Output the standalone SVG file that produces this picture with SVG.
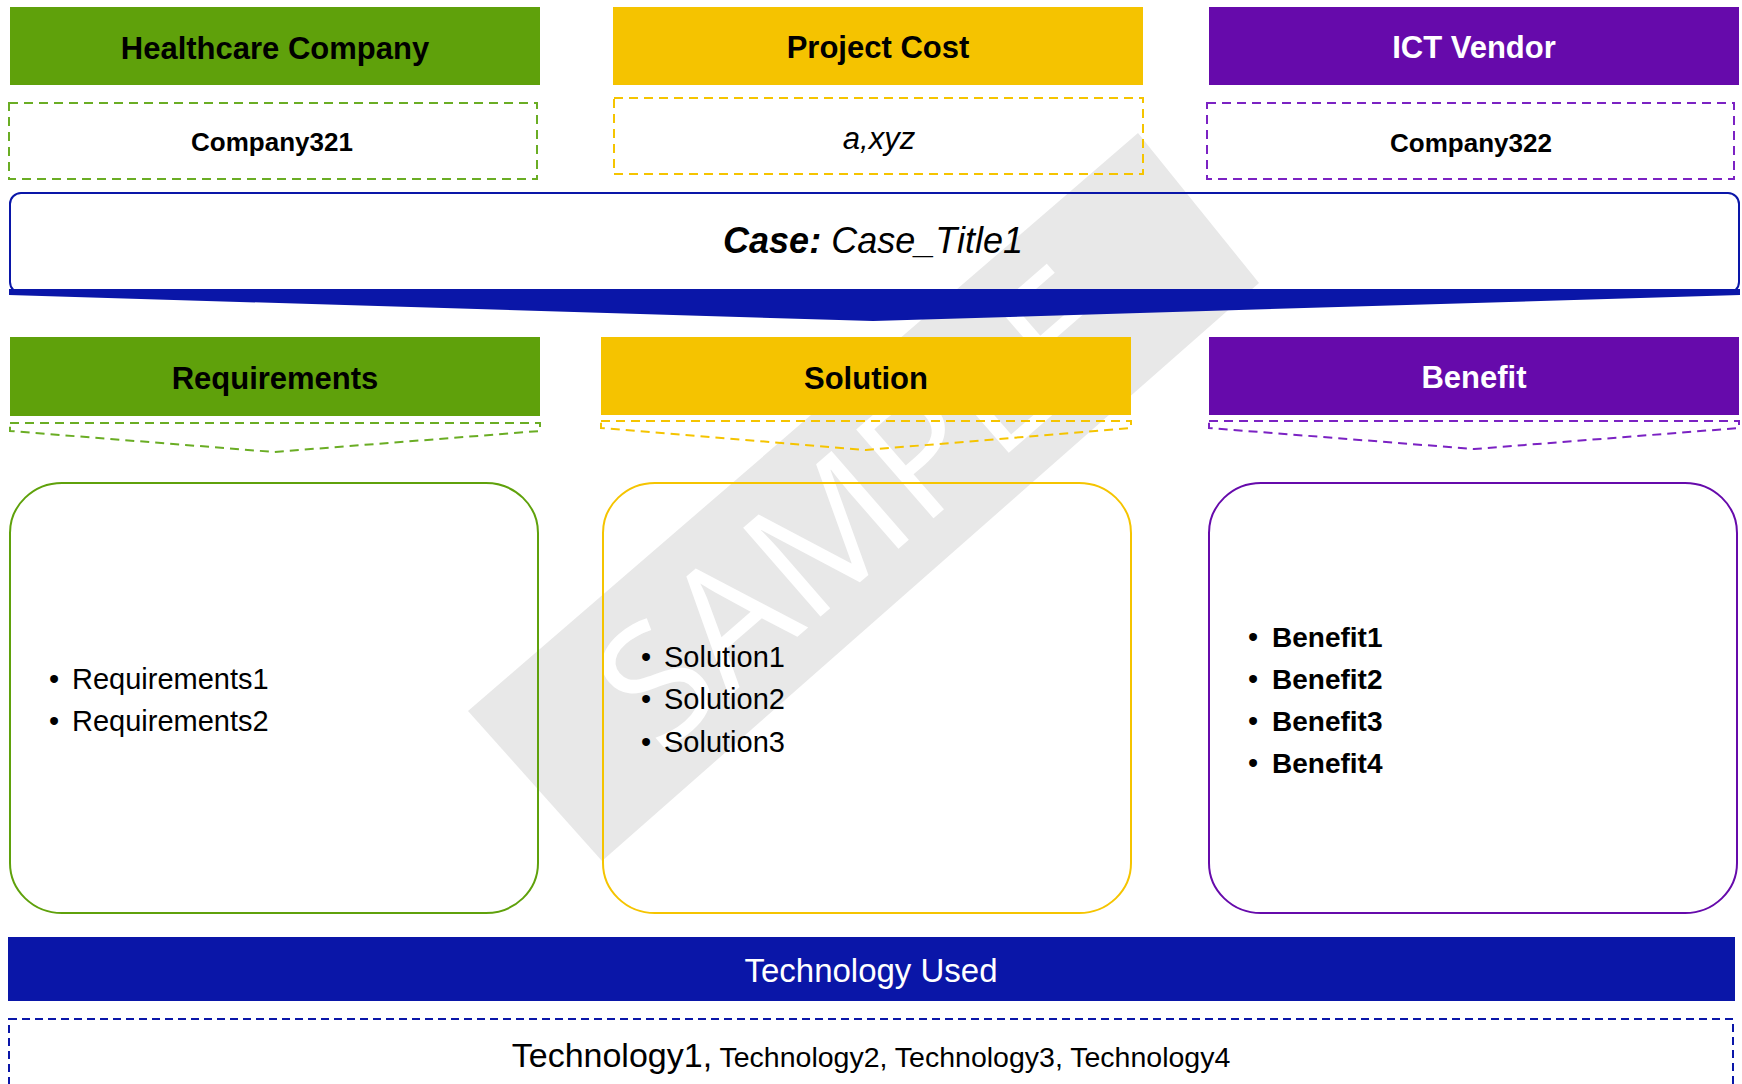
<svg xmlns="http://www.w3.org/2000/svg" width="1742" height="1084" viewBox="0 0 1742 1084">
<style>
  text { font-family: "Liberation Sans", Arial, sans-serif; fill: #000; }
  .hdr { font-size: 31px; font-weight: bold; text-anchor: middle; }
  .sub { font-size: 26px; font-weight: bold; text-anchor: middle; }
  .item { font-size: 29px; }
  .bitem { font-size: 28px; font-weight: bold; }
  .bul { font-size: 29px; text-anchor: middle; }
  .white { fill: #fff; }
  .g { fill: #5FA10B; }
  .y { fill: #F5C300; }
  .p { fill: #660AAB; }
  .dash { fill: none; stroke-width: 2; stroke-dasharray: 9 6; }
  .gs { stroke: #6AAD24; }
  .ys { stroke: #F5C400; }
  .ps { stroke: #7B22C3; }
  .box { fill: none; stroke-width: 2; }
  .wm { font-family: "Open Sans", sans-serif; font-size: 165px; fill: #fff; text-anchor: middle; }
</style>

<g id="watermark">
  <polygon points="468,711 1138,133 1259,283 602,861" fill="#E8E8E8"/>
  <text transform="translate(896,551) rotate(-41.04)" x="0" y="0" class="wm" textLength="625" lengthAdjust="spacingAndGlyphs">SAMPLE</text>
</g>

<g id="healthcare-company">
  <rect x="10" y="7" width="530" height="78" class="g"/>
  <text x="275" y="59" class="hdr">Healthcare Company</text>
</g>
<g id="company321">
  <rect x="9" y="103" width="528" height="76" class="dash gs"/>
  <text x="272" y="151" class="sub">Company321</text>
</g>

<g id="project-cost">
  <rect x="613" y="7" width="530" height="78" class="y"/>
  <text x="878" y="58" class="hdr">Project Cost</text>
</g>
<g id="cost-value">
  <rect x="614" y="98" width="529" height="76" class="dash ys"/>
  <text x="879" y="149" font-size="31" font-style="italic" text-anchor="middle">a,xyz</text>
</g>

<g id="ict-vendor">
  <rect x="1209" y="7" width="530" height="78" class="p"/>
  <text x="1474" y="58" class="hdr white">ICT Vendor</text>
</g>
<g id="company322">
  <rect x="1207" y="103" width="527" height="76" class="dash ps"/>
  <text x="1471" y="152" class="sub">Company322</text>
</g>

<g id="case">
  <rect x="10" y="193" width="1729" height="100" rx="11" ry="11" fill="none" stroke="#0A16A8" stroke-width="2"/>
  <text x="873" y="253" font-size="36" font-style="italic" text-anchor="middle"><tspan font-weight="bold">Case:</tspan> Case_Title1</text>
</g>

<g id="connectors">
  <polygon points="9,289 1740,289 1740,295 873,321 9,295" fill="#0A16A8"/>
  <path d="M10,423 H540 V431 L274,452 L10,431 Z" class="dash gs" stroke-dasharray="8 6"/>
  <path d="M601,421 H1131 V428 L866,450 L601,428 Z" class="dash ys" stroke-dasharray="8 6"/>
  <path d="M1209,421 H1739 V428 L1474,449 L1209,428 Z" class="dash ps" stroke-dasharray="8 6"/>
</g>

<g id="requirements">
  <rect x="10" y="337" width="530" height="79" class="g"/>
  <text x="275" y="389" class="hdr">Requirements</text>
</g>
<g id="requirements-list">
  <rect x="10" y="483" width="528" height="430" rx="52" ry="50" class="box" stroke="#5FA10B"/>
  <text x="54" y="689" class="bul">•</text>
  <text x="72" y="689" class="item">Requirements1</text>
  <text x="54" y="731" class="bul">•</text>
  <text x="72" y="731" class="item">Requirements2</text>
</g>

<g id="solution">
  <rect x="601" y="337" width="530" height="78" class="y"/>
  <text x="866" y="389" class="hdr">Solution</text>
</g>
<g id="solution-list">
  <rect x="603" y="483" width="528" height="430" rx="52" ry="50" class="box" stroke="#F5C400"/>
  <text x="646" y="667" class="bul">•</text>
  <text x="664" y="667" class="item">Solution1</text>
  <text x="646" y="709" class="bul">•</text>
  <text x="664" y="709" class="item">Solution2</text>
  <text x="646" y="752" class="bul">•</text>
  <text x="664" y="752" class="item">Solution3</text>
</g>

<g id="benefit">
  <rect x="1209" y="337" width="530" height="78" class="p"/>
  <text x="1474" y="388" class="hdr white">Benefit</text>
</g>
<g id="benefit-list">
  <rect x="1209" y="483" width="528" height="430" rx="52" ry="50" class="box" stroke="#660AAB"/>
  <text x="1253" y="647" class="bul">•</text>
  <text x="1272" y="647" class="bitem">Benefit1</text>
  <text x="1253" y="689" class="bul">•</text>
  <text x="1272" y="689" class="bitem">Benefit2</text>
  <text x="1253" y="731" class="bul">•</text>
  <text x="1272" y="731" class="bitem">Benefit3</text>
  <text x="1253" y="773" class="bul">•</text>
  <text x="1272" y="773" class="bitem">Benefit4</text>
</g>

<g id="technology-used">
  <rect x="8" y="937" width="1727" height="64" fill="#0A16A8"/>
  <text x="871" y="982" font-size="33" text-anchor="middle" class="white">Technology Used</text>
</g>
<g id="technology-list">
  <rect x="9" y="1019" width="1724" height="90" fill="none" stroke="#0A16A8" stroke-width="2" stroke-dasharray="8 5"/>
  <text x="871" y="1067" text-anchor="middle"><tspan font-size="34">Technology1,</tspan><tspan font-size="28.5"> Technology2, Technology3, Technology4</tspan></text>
</g>
</svg>
